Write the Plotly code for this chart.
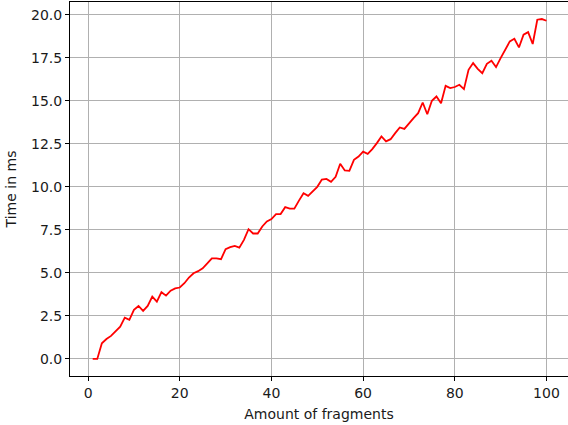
import plotly.graph_objects as go

fragments = list(range(1, 101))
time_ms = [
    0.0, 0.0, 0.91, 1.16, 1.34, 1.59, 1.88, 2.4, 2.27, 2.85,
    3.08, 2.79, 3.08, 3.62, 3.33, 3.88, 3.68, 3.97, 4.1, 4.15,
    4.4, 4.73, 4.98, 5.1, 5.27, 5.55, 5.85, 5.85, 5.8, 6.38,
    6.5, 6.57, 6.47, 6.92, 7.54, 7.29, 7.29, 7.7, 7.99, 8.13,
    8.42, 8.42, 8.82, 8.73, 8.73, 9.2, 9.63, 9.48, 9.73, 10.0,
    10.42, 10.46, 10.29, 10.58, 11.34, 10.95, 10.93, 11.57, 11.76, 12.05,
    11.92, 12.19, 12.54, 12.93, 12.64, 12.77, 13.12, 13.45, 13.37, 13.7,
    13.99, 14.28, 14.9, 14.22, 15.0, 15.25, 14.86, 15.87, 15.74, 15.8,
    15.93, 15.68, 16.8, 17.19, 16.86, 16.6, 17.15, 17.33, 16.96, 17.48,
    18.0, 18.45, 18.6, 18.1, 18.84, 18.99, 18.3, 19.71, 19.75, 19.65,
]
x_ticks = [0, 20, 40, 60, 80, 100]
y_ticks = [0.0, 2.5, 5.0, 7.5, 10.0, 12.5, 15.0, 17.5, 20.0]

font = dict(family="DejaVu Sans", size=14, color="#1a1a1a")

fig = go.Figure()
fig.add_trace(go.Scatter(
    x=fragments, y=time_ms, mode="lines",
    line=dict(color="#ff0000", width=1.8), showlegend=False,
))

axis_common = dict(
    showgrid=True, gridcolor="#b0b0b0", gridwidth=0.8,
    showline=True, linecolor="black", linewidth=1,
    ticks="outside", ticklen=4, tickcolor="black", tickwidth=1,
    zeroline=False, tickfont=font, automargin=False,
)

fig.update_layout(
    width=568, height=425,
    margin=dict(l=70, r=0, t=2, b=49),
    plot_bgcolor="white", paper_bgcolor="white",
    font=font,
    xaxis=dict(range=[-3.95, 104.7], tickvals=x_ticks, mirror=True,
               title=dict(text="Amount of fragments", font=font, standoff=9),
               **axis_common),
    yaxis=dict(range=[-0.99, 20.74], tickvals=y_ticks, tickformat=".1f", mirror=False,
               title=dict(text="Time in ms", font=font, standoff=11),
               **axis_common),
)

fig.write_html(
    "out.html",
    config={"displayModeBar": False},
    post_script="document.body.style.margin='0';document.body.style.overflow='hidden';",
)
